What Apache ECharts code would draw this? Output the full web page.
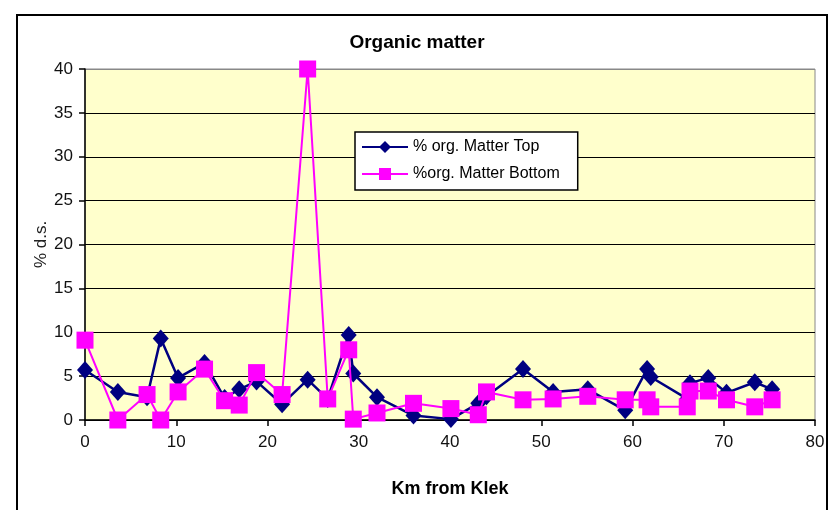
<!DOCTYPE html>
<html>
<head>
<meta charset="utf-8">
<script src="https://cdn.jsdelivr.net/npm/echarts@6/dist/echarts.min.js"></script>
<style>
html,body{margin:0;padding:0;background:#fff;}
#chart{width:834px;height:510px;}
</style>
</head>
<body>
<div id="chart"></div>
<script>
// Data
const km = [0, 3.6, 6.8, 8.3, 10.2, 13.1, 15.3, 16.9, 18.8, 21.6, 24.4, 26.6, 28.9, 29.4, 32.0, 36.0, 40.1, 43.1, 44.0, 48.0, 51.3, 55.1, 59.2, 61.6, 62.0, 66.0, 66.3, 68.3, 70.3, 73.4, 75.3];
const orgTop = [5.7, 3.2, 2.6, 9.3, 4.8, 6.5, 2.5, 3.5, 4.4, 1.8, 4.6, 2.4, 9.7, 5.3, 2.6, 0.5, 0.1, 1.9, 2.7, 5.8, 3.2, 3.5, 1.1, 5.8, 4.9, 2.4, 4.2, 4.8, 3.1, 4.3, 3.5];
const orgBottom = [9.1, 0.0, 2.9, 0.0, 3.2, 5.8, 2.2, 1.7, 5.4, 2.9, 40.0, 2.4, 8.0, 0.1, 0.8, 1.9, 1.3, 0.6, 3.2, 2.3, 2.4, 2.7, 2.3, 2.3, 1.5, 1.5, 3.3, 3.3, 2.3, 1.5, 2.3];
const seriesNames = ['% org. Matter Top', '%org. Matter Bottom'];
const titleText = 'Organic matter';
const xName = 'Km from Klek';
const yName = '% d.s.';

const topPairs = km.map((k, i) => [k, orgTop[i]]);
const bottomPairs = km.map((k, i) => [k, orgBottom[i]]);

const chart = echarts.init(document.getElementById('chart'));
const font = 'Liberation Sans, Arial, sans-serif';
chart.setOption({
  animation: false,
  backgroundColor: '#ffffff',
  title: {
    text: titleText, left: 'center', top: 28,
    textStyle: { fontFamily: font, fontSize: 19, fontWeight: 'bold', color: '#000' }
  },
  graphic: [{
    type: 'rect', silent: true, z: -1,
    shape: { x: 17, y: 15, width: 810, height: 510 },
    style: { fill: 'none', stroke: '#000', lineWidth: 2 }
  }],
  legend: {
    orient: 'vertical', left: 355, top: 132,
    backgroundColor: '#ffffff', borderColor: '#000', borderWidth: 1.5,
    padding: [7, 18, 8, 6], itemGap: 11, itemWidth: 46, itemHeight: 15,
    textStyle: { fontFamily: font, fontSize: 16, color: '#000' },
    data: seriesNames
  },
  grid: {
    left: 85, right: 19, top: 69, bottom: 90, show: true,
    backgroundColor: '#FFFFCC', borderColor: '#888', borderWidth: 1
  },
  xAxis: {
    type: 'value', min: 0, max: 80, interval: 10,
    name: xName, nameLocation: 'middle', nameGap: 60,
    nameTextStyle: { fontFamily: font, fontSize: 18, fontWeight: 'bold', color: '#000' },
    axisLine: { show: true, lineStyle: { color: '#000', width: 1.5 } },
    axisTick: { show: true, length: 6, lineStyle: { color: '#000', width: 1.5 } },
    axisLabel: { margin: 14, fontFamily: font, fontSize: 17, color: '#111' },
    splitLine: { show: false }
  },
  yAxis: {
    type: 'value', min: 0, max: 40, interval: 5,
    name: yName, nameLocation: 'middle', nameGap: 35, nameRotate: 90,
    nameMoveOverlap: false,
    nameTextStyle: { fontFamily: font, fontSize: 17, color: '#222' },
    axisLine: { show: true, lineStyle: { color: '#000', width: 1.5 } },
    axisTick: { show: true, length: 6, lineStyle: { color: '#000', width: 1.5 } },
    axisLabel: { margin: 12, fontFamily: font, fontSize: 17, color: '#111' },
    splitLine: { show: true, lineStyle: { color: ['#000', '#000', '#000', '#000', '#000', '#000', '#000', '#000', '#888'], width: 1.2 } }
  },
  series: [
    {
      name: seriesNames[0], type: 'line', data: topPairs,
      symbol: 'diamond', symbolSize: [16, 18],
      lineStyle: { color: '#000080', width: 2.5 },
      itemStyle: { color: '#000080' }, z: 2
    },
    {
      name: seriesNames[1], type: 'line', data: bottomPairs,
      symbol: 'rect', symbolSize: 17,
      lineStyle: { color: '#FF00FF', width: 2 },
      itemStyle: { color: '#FF00FF' }, z: 3
    }
  ]
});
</script>
</body>
</html>
